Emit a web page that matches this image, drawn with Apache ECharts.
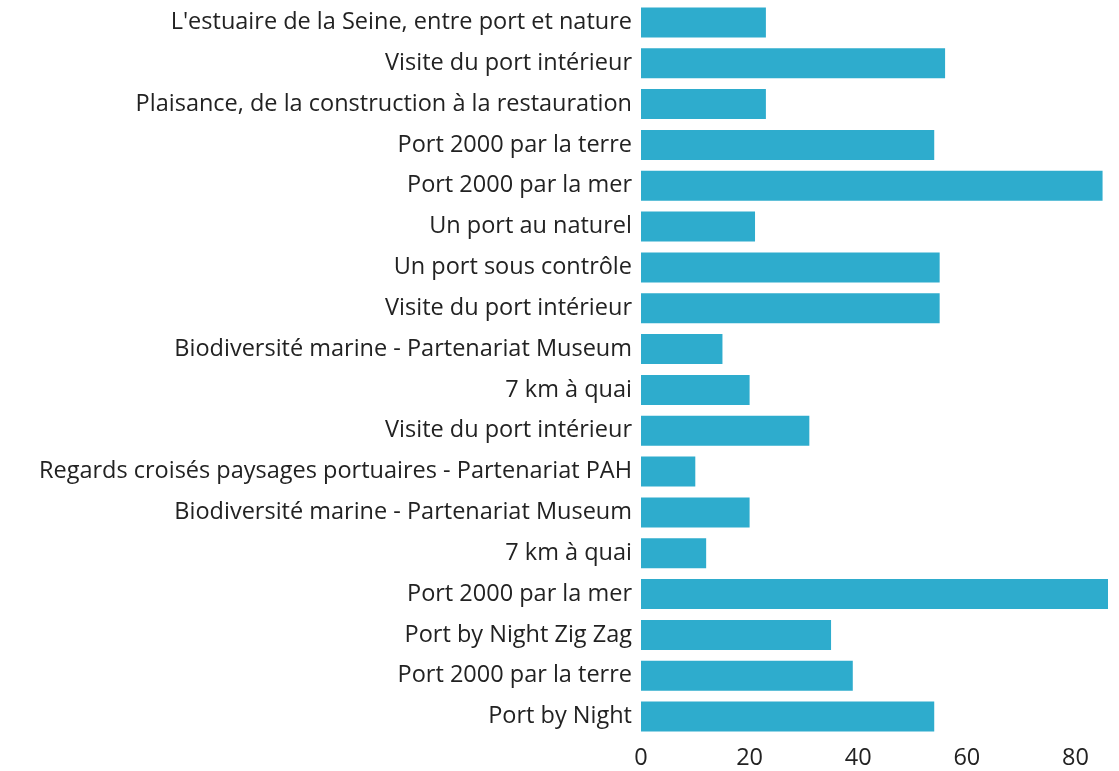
<!DOCTYPE html>
<html>
<head>
<meta charset="utf-8">
<script src="https://cdn.jsdelivr.net/npm/echarts@6/dist/echarts.min.js"></script>
<style>
  html, body { margin: 0; padding: 0; background: #fff; }
  #chart { width: 1119px; height: 771px; }
</style>
</head>
<body>
<div id="chart"></div>
<script>
// top to bottom as in the picture
const categories = [
  "L'estuaire de la Seine, entre port et nature",
  'Visite du port intérieur',
  'Plaisance, de la construction à la restauration',
  'Port 2000 par la terre',
  'Port 2000 par la mer',
  'Un port au naturel',
  'Un port sous contrôle',
  'Visite du port intérieur',
  'Biodiversité marine - Partenariat Museum',
  '7 km à quai',
  'Visite du port intérieur',
  'Regards croisés paysages portuaires - Partenariat PAH',
  'Biodiversité marine - Partenariat Museum',
  '7 km à quai',
  'Port 2000 par la mer',
  'Port by Night Zig Zag',
  'Port 2000 par la terre',
  'Port by Night'
]
const values = [23, 56, 23, 54, 85, 21, 55, 55, 15, 20, 31, 10, 20, 12, 86, 35, 39, 54]
const xTicks = [0, 20, 40, 60, 80]

const chart = echarts.init(document.getElementById('chart'))
const FONT = '"Open Sans"'

chart.setOption({
  animation: false,
  grid: { left: 641, right: 11, top: 2, bottom: 34, containLabel: false },
  xAxis: {
    type: 'value',
    min: 0,
    max: 86,
    interval: 20,
    axisLine: { show: false },
    axisTick: { show: false },
    splitLine: { show: false },
    axisLabel: {
      color: '#222',
      fontFamily: FONT,
      fontSize: 23.5,
      margin: 9,
      showMaxLabel: false,
      formatter: (v) => (xTicks.includes(v) ? String(v) : '')
    }
  },
  yAxis: {
    type: 'category',
    inverse: true,
    data: categories,
    axisLine: { show: false },
    axisTick: { show: false },
    axisLabel: { color: '#222', fontFamily: FONT, fontSize: 23.5, margin: 9 }
  },
  series: [{
    type: 'bar',
    data: values,
    barWidth: 30,
    itemStyle: { color: '#2eaccd' }
  }]
})
</script>
</body>
</html>
